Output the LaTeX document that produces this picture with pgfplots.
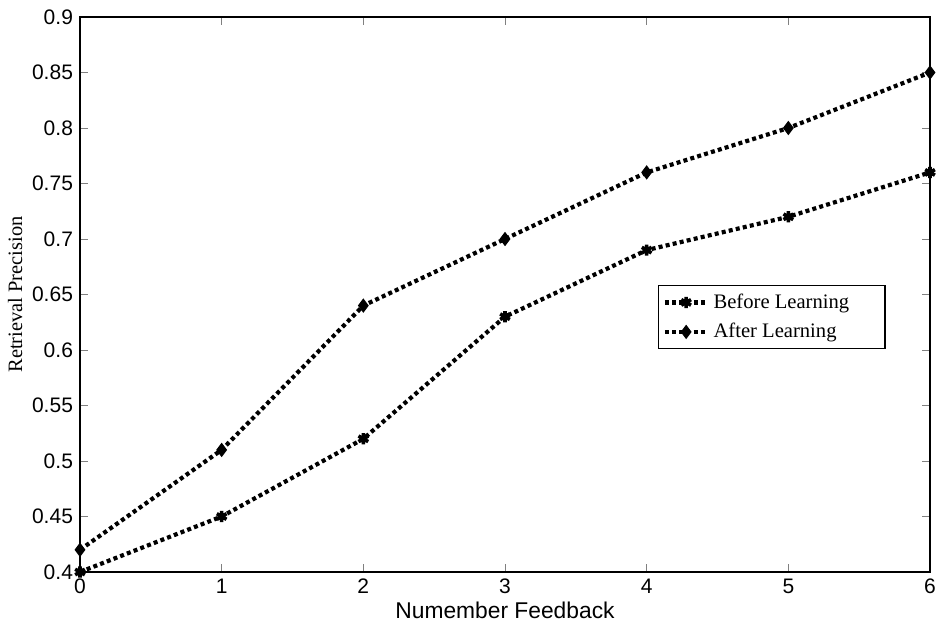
\documentclass[border=0pt]{standalone}
\usepackage{pgfplots}
\pgfplotsset{compat=1.18}
\usepackage{fontspec}
\setmainfont{Liberation Serif}
\newfontfamily\arialf{Liberation Sans}
\usetikzlibrary{calc,plotmarks}
\begin{document}
\begin{tikzpicture}
\begin{axis}[
  scale only axis,
  width=425pt, height=277.5pt,
  xmin=0, xmax=6, ymin=0.4, ymax=0.9,
  xtick={0,1,2,3,4,5,6},
  ytick={0.4,0.45,0.5,0.55,0.6,0.65,0.7,0.75,0.8,0.85,0.9},
  yticklabel style={/pgf/number format/fixed,/pgf/number format/precision=2},
  /pgf/number format/assume math mode=true,
  tick label style={font=\arialf\fontsize{10.5}{12}\selectfont},
  tick align=inside,
  major tick length=4pt,
  axis line style={line width=0.7pt},
  xlabel={\arialf\fontsize{11.4}{13}\selectfont Numember Feedback},
  ylabel={\fontsize{10.2}{12}\selectfont Retrieval Precision},
  xlabel style={yshift=3pt},
  ylabel style={yshift=-2pt},
  legend style={at={(axis cs:4.08,0.6586)}, anchor=north west, font=\fontsize{10.3}{12}\selectfont, draw=black, line width=0.7pt, inner sep=2pt, row sep=2pt},
  legend cell align=left,
  legend image code/.code={\draw[#1] (0cm,0cm) -- (0.75cm,0cm); \draw[#1, only marks] plot coordinates {(0.375cm,0cm)};},
  every axis plot/.append style={line width=2.1pt, dash pattern=on 2pt off 1.6pt, black},
]
\addplot[mark=asterisk, mark options={solid, line width=1.8pt, scale=1.4}] coordinates {(0,0.40) (1,0.45) (2,0.52) (3,0.63) (4,0.69) (5,0.72) (6,0.76)};
\addlegendentry{Before Learning\rule{14pt}{0pt}}
\addplot[mark=diamond*, mark options={solid, line width=0.5pt, scale=1.6}] coordinates {(0,0.42) (1,0.51) (2,0.64) (3,0.70) (4,0.76) (5,0.80) (6,0.85)};
\addlegendentry{After Learning}
\end{axis}
\pgfresetboundingbox
\path[use as bounding box] ($(current axis.south west)+(-40pt,-27.5pt)$) rectangle ($(current axis.north east)+(4pt,8.5pt)$);
\end{tikzpicture}
\end{document}
